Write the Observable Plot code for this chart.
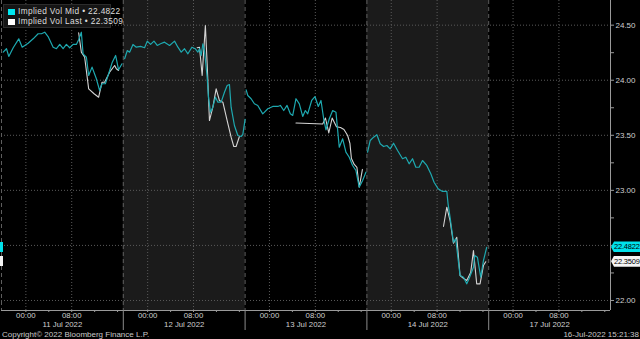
<!DOCTYPE html>
<html>
<head>
<meta charset="utf-8">
<script src="https://cdn.jsdelivr.net/npm/d3@7"></script>
<script src="https://cdn.jsdelivr.net/npm/@observablehq/plot@0.6"></script>
<style>
html,body{margin:0;padding:0;background:#000;width:640px;height:339px;overflow:hidden;font-family:"Liberation Sans",Arial,sans-serif;}
#wrap{position:relative;width:640px;height:339px;}
#chart svg{display:block;}
#legend{position:absolute;left:3px;top:4px;width:106px;height:22px;background:#151515;border:1px solid #2c2c2c;font-size:8.3px;letter-spacing:0.35px;color:#ddd;}
#legend .row{position:absolute;left:4px;height:9px;line-height:9px;white-space:nowrap;}
#legend .sq{display:inline-block;width:7px;height:6px;vertical-align:-1px;margin-right:3px;}
.badge{position:absolute;left:611px;width:29px;height:11px;line-height:11px;font-size:7.5px;letter-spacing:-0.2px;color:#000;padding-left:3px;box-sizing:border-box;clip-path:polygon(0 50%,3px 0,100% 0,100% 100%,3px 100%);white-space:nowrap;}
.lmark{position:absolute;left:0;width:3px;height:10px;}
#caption{position:absolute;left:0;top:330px;width:640px;height:9px;font-size:8px;line-height:9px;color:#c8c8c8;}
#caption .l{position:absolute;left:2px;}
#caption .r{position:absolute;right:1px;}
</style>
</head>
<body>
<div id="wrap">
  <div id="chart"></div>
  <div id="legend"></div>
  <div id="caption"><span class="l">Copyright© 2022 Bloomberg Finance L.P.</span><span class="r">16-Jul-2022 15:21:38</span></div>
</div>
<script>
// ---- data ----
const dayLabels = ["11 Jul 2022", "12 Jul 2022", "13 Jul 2022", "14 Jul 2022", "17 Jul 2022"];
const seriesNames = ["Implied Vol Mid", "Implied Vol Last"];
const lastValues = [22.4822, 22.3509];
const yTicks = [22.00, 22.50, 23.00, 23.50, 24.00, 24.50];
const yHiddenLabel = 22.50;   // covered by the current-value badge
const yMinorTicks = [22.25, 22.75, 23.25, 23.75, 24.25];
const hourLabels = ["00:00", "08:00"];   // labelled hours
const hourLabelValues = [0, 8];
const minorHours = [4, 12, 16];
const sessionStart = -4.25;  // hours relative to midnight (19:45 previous evening)
const sessionEnd = 17;

// [day index, hour relative to midnight, value]
const midData = [
  [0,-3.95,24.255],[0,-3.38,24.286],[0,-2.98,24.216],[0,-2.21,24.295],[0,-1.24,24.376],[0,-0.64,24.300],
  [0,0.40,24.336],[0,1.27,24.376],[0,2.14,24.422],[0,2.72,24.422],[0,3.29,24.436],[0,3.88,24.397],
  [0,4.76,24.300],[0,5.33,24.286],[0,5.91,24.325],[0,6.50,24.286],[0,7.07,24.325],[0,7.65,24.295],
  [0,8.24,24.325],[0,8.81,24.325],[0,9.21,24.367],[0,9.68,24.436],[0,9.98,24.240],[0,10.56,24.209],
  [0,10.96,24.043],[0,11.55,24.119],[0,12.30,24.013],[0,12.87,23.907],[0,13.29,23.968],[0,13.87,23.968],
  [0,14.44,24.059],[0,15.08,24.164],[0,15.66,24.225],[0,16.18,24.095],[0,16.77,24.149],
  [1,-4.02,24.195],[1,-3.55,24.270],[1,-3.15,24.255],[1,-2.56,24.325],[1,-1.98,24.300],[1,-1.24,24.307],
  [1,-0.54,24.295],[1,-0.07,24.355],[1,0.51,24.325],[1,1.10,24.355],[1,1.67,24.316],[1,2.25,24.331],
  [1,2.94,24.346],[1,3.82,24.316],[1,4.69,24.355],[1,5.28,24.300],[1,5.85,24.255],[1,6.43,24.286],
  [1,7.02,24.240],[1,7.72,24.300],[1,8.29,24.286],[1,8.76,24.255],[1,9.04,24.286],[1,9.34,24.225],
  [1,9.63,24.331],[1,9.91,24.270],[1,10.38,24.028],[1,10.61,23.846],[1,10.96,23.710],[1,11.37,23.755],
  [1,11.83,23.846],[1,12.25,23.801],[1,12.82,23.801],[1,13.40,23.891],[1,13.87,23.952],[1,14.27,23.961],
  [1,14.56,23.755],[1,15.14,23.589],[1,15.73,23.498],[1,16.30,23.489],[1,16.60,23.507],[1,17.00,23.644],
  [2,-4.07,23.913],[2,-3.78,23.861],[2,-3.20,23.832],[2,-2.63,23.786],[2,-2.04,23.771],[2,-1.17,23.695],
  [2,-0.29,23.741],[2,0.58,23.762],[2,1.45,23.762],[2,1.90,23.771],[2,2.49,23.725],[2,3.07,23.771],
  [2,3.64,23.695],[2,4.06,23.680],[2,4.63,23.832],[2,5.21,23.786],[2,5.80,23.671],[2,6.26,23.725],
  [2,6.67,23.695],[2,7.37,23.816],[2,7.94,23.852],[2,8.52,23.762],[2,8.99,23.816],[2,9.46,23.650],
  [2,9.86,23.550],[2,10.44,23.650],[2,11.03,23.725],[2,11.60,23.710],[2,12.18,23.392],[2,12.77,23.468],
  [2,13.34,23.347],[2,13.92,23.301],[2,14.51,23.226],[2,15.09,23.180],[2,15.66,23.029],[2,16.25,23.090],
  [2,16.83,23.165],
  [3,-4.13,23.347],[3,-3.67,23.453],[3,-3.08,23.483],[3,-2.51,23.505],[3,-1.93,23.423],[3,-1.34,23.398],
  [3,-0.76,23.407],[3,-0.19,23.377],[3,0.40,23.428],[3,1.10,23.362],[3,1.97,23.287],[3,2.54,23.301],
  [3,3.12,23.241],[3,3.71,23.287],[3,4.29,23.210],[3,4.86,23.210],[3,5.45,23.271],[3,6.20,23.226],
  [3,6.90,23.150],[3,7.47,23.074],[3,8.17,23.014],[3,8.94,22.990],[3,9.69,22.992],[3,9.91,22.878],
  [3,10.26,22.756],[3,10.85,22.529],[3,11.25,22.560],[3,11.55,22.424],[3,12.00,22.227],[3,12.60,22.211],
  [3,13.17,22.151],[3,13.57,22.197],[3,14.34,22.302],[3,14.56,22.408],[3,15.03,22.393],[3,15.61,22.211],
  [3,16.08,22.362],[3,16.65,22.482]
];

const lastData = [
  [0,9.21,24.431],[0,9.68,24.255],[0,10.26,24.209],[0,10.96,23.922],[0,11.90,23.877],[0,12.70,23.846],
  [0,13.29,23.982],[0,13.74,23.982],[0,14.61,24.073],[0,15.49,24.134],[0,15.78,24.104],[0,16.18,24.089],
  [1,8.64,24.295],[1,9.04,24.300],[1,9.51,24.043],[1,10.07,24.497],[1,10.38,24.149],[1,10.78,23.634],
  [1,11.37,23.755],[1,11.95,23.922],[1,12.52,23.816],[1,13.12,23.801],[1,13.87,23.634],[1,14.56,23.483],
  [1,15.03,23.398],[1,15.43,23.398],[1,16.01,23.489],
  [2,4.63,23.612],[2,9.29,23.603],[2,9.77,23.657],[2,10.35,23.521],[2,10.94,23.657],[2,11.69,23.577],
  [2,12.39,23.571],[2,13.00,23.553],[2,13.64,23.498],[2,14.04,23.426],[2,14.30,23.289],[2,14.79,23.235],
  [2,15.26,23.208],[2,15.66,23.029],[2,16.22,23.190],
  [3,9.11,22.672],[3,9.69,22.847],[3,10.26,22.726],[3,10.85,22.520],[3,11.43,22.574],[3,12.00,22.227],
  [3,12.70,22.197],[3,13.17,22.181],[3,13.87,22.257],[3,14.34,22.454],[3,14.91,22.151],[3,15.49,22.151],
  [3,16.08,22.317],[3,16.48,22.351]
];

// ---- layout helpers ----
const sessionLen = sessionEnd - sessionStart;               // 21.25 h per band
const X = (day, h) => day * sessionLen + (h - sessionStart);  // continuous session time
const xMax = dayLabels.length * sessionLen;
const yDomain = [21.909, 24.724];

const toRows = (arr, name) => arr.map(([d, h, v]) => ({day: d, x: X(d, h), v, name}));
const mid = toRows(midData, seriesNames[0]);
const last = toRows(lastData, seriesNames[1]);

const bands = dayLabels.map((label, i) => ({x1: X(i, sessionStart), x2: X(i, sessionEnd), label, shade: i % 2 === 1}));
const bandEdges = bands.map(b => b.x1);
const hourTicks = [], hourTickText = new Map();
dayLabels.forEach((_, i) => hourLabelValues.forEach((h, j) => { const x = X(i, h); hourTicks.push(x); hourTickText.set(x, hourLabels[j]); }));
const minorTicks = [];
dayLabels.forEach((_, i) => minorHours.forEach(h => minorTicks.push(X(i, h))));
const centerTicks = bands.map(b => (b.x1 + b.x2) / 2);
const centerText = new Map(bands.map((b, i) => [centerTicks[i], b.label]));

const MID_COLOR = "#1ea9b0";
const LAST_COLOR = "#d4d4d4";
const AXIS_TEXT = "#cfcfcf";

const plot = Plot.plot({
  width: 640,
  height: 330,
  marginTop: 0,
  marginBottom: 20,
  marginLeft: 1,
  marginRight: 30,
  style: {background: "#000", fontFamily: "Liberation Sans, Arial, sans-serif", fontSize: "8px", color: AXIS_TEXT, overflow: "visible"},
  x: {type: "linear", domain: [0, xMax]},
  y: {type: "linear", domain: yDomain},
  marks: [
    Plot.rect(bands.filter(b => b.shade), {x1: "x1", x2: "x2", fill: "#1b1b1b"}),
    Plot.ruleY(yTicks, {stroke: "#5a5a5a", strokeDasharray: "1,2"}),
    Plot.ruleX(hourTicks, {stroke: "#5a5a5a", strokeDasharray: "1,2"}),
    Plot.ruleX(bandEdges, {stroke: "#5e5e5e", strokeDasharray: "4,3"}),
    Plot.line(last, {x: "x", y: "v", z: "day", stroke: LAST_COLOR, strokeWidth: 1.1}),
    Plot.line(mid, {x: "x", y: "v", z: "day", stroke: MID_COLOR, strokeWidth: 1.2}),
    Plot.ruleX([xMax], {stroke: "#9a9a9a"}),
    Plot.ruleY([yDomain[0]], {stroke: "#9a9a9a"}),
    Plot.axisY({anchor: "right", ticks: yTicks.filter(t => t !== yHiddenLabel), tickFormat: d => d.toFixed(2), tickSize: 3, tickPadding: 2, label: null, fill: AXIS_TEXT, stroke: "#9a9a9a", fontSize: 8}),
    Plot.axisY({anchor: "right", ticks: yMinorTicks.concat([yHiddenLabel]), tickFormat: () => "", tickSize: 3, label: null, stroke: "#9a9a9a"}),
    Plot.axisX({anchor: "bottom", ticks: hourTicks, tickFormat: d => hourTickText.get(d), tickSize: 2, tickPadding: 0, label: null, fill: AXIS_TEXT, stroke: "#9a9a9a", fontSize: 7.8}),
    Plot.axisX({anchor: "bottom", ticks: minorTicks, tickFormat: () => "", tickSize: 2, label: null, stroke: "#9a9a9a"}),
    Plot.axisX({anchor: "bottom", ticks: bandEdges.slice(1), tickFormat: () => "", tickSize: 20, label: null, stroke: "#8a8a8a"}),
    Plot.axisX({anchor: "bottom", ticks: centerTicks, tickFormat: d => centerText.get(d), tickSize: 0, tickPadding: 11, label: null, fill: AXIS_TEXT, fontSize: 7.8})
  ]
});
document.getElementById("chart").appendChild(plot);

// legend
const legend = document.getElementById("legend");
const legendColors = ["#00e8f0", "#ffffff"];
seriesNames.forEach((n, i) => {
  const row = document.createElement("div");
  row.className = "row";
  row.style.top = (2 + i * 9.5) + "px";
  row.innerHTML = `<span class="sq" style="background:${legendColors[i]}"></span>${n} &#8226; ${lastValues[i].toFixed(4)}`;
  legend.appendChild(row);
});

// current-value badges positioned with the plot's y scale
const ys = plot.scale("y");
const yPix = v => ys.apply(v);
const wrap = document.getElementById("wrap");
const badgeColors = ["#00e1ea", "#f4f4f4"];
lastValues.forEach((v, i) => {
  let cy = yPix(v);
  if (i === 1) cy = Math.max(cy, yPix(lastValues[0]) + 13);
  const b = document.createElement("div");
  b.className = "badge";
  b.style.top = (cy - 5.5) + "px";
  b.style.background = badgeColors[i];
  b.textContent = v.toFixed(4);
  wrap.appendChild(b);
  const m = document.createElement("div");
  m.className = "lmark";
  m.style.top = (cy - 5) + "px";
  m.style.background = badgeColors[i];
  wrap.appendChild(m);
});
</script>
</body>
</html>
